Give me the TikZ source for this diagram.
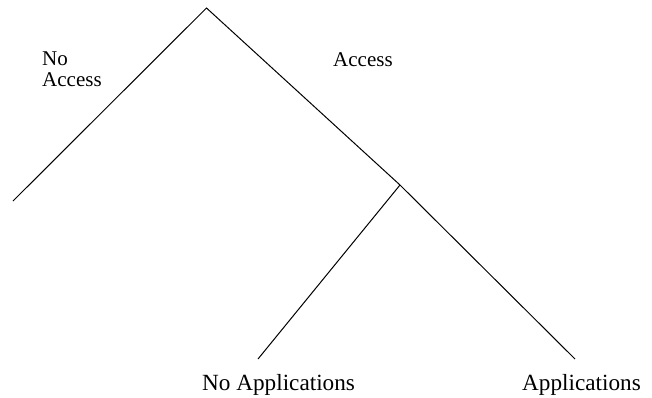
\documentclass[tikz,border=0pt]{standalone}
\usepackage{fontspec}
\setmainfont{Liberation Serif}
\tikzset{
  branch/.style={draw=black, line width=1pt},
  toplabel/.style={inner sep=0pt, anchor=base west, font=\fontsize{21}{22}\selectfont, align=left},
  leaflabel/.style={inner sep=0pt, anchor=base west, font=\fontsize{23.2}{24}\selectfont}
}
\begin{document}
\begin{tikzpicture}[x=1pt,y=-1pt]
\useasboundingbox (0,0) rectangle (652,397);
\coordinate (root) at (206.5,8);
\coordinate (left) at (13,201);
\coordinate (mid) at (400,185);
\coordinate (noapp) at (258,359);
\coordinate (app) at (575,359);
\draw[branch] (left) -- (root) -- (mid) -- (app);
\draw[branch] (mid) -- (noapp);
\node[toplabel] (noacc1) at (42,65) {No};
\node[toplabel] (noacc2) at (42,86) {Access};
\node[toplabel] (acc) at (333,66.5) {Access};
\node[leaflabel] (noapplbl) at (202,390) {No Applications};
\node[leaflabel] (applbl) at (522,390) {Applications};
\end{tikzpicture}
\end{document}
